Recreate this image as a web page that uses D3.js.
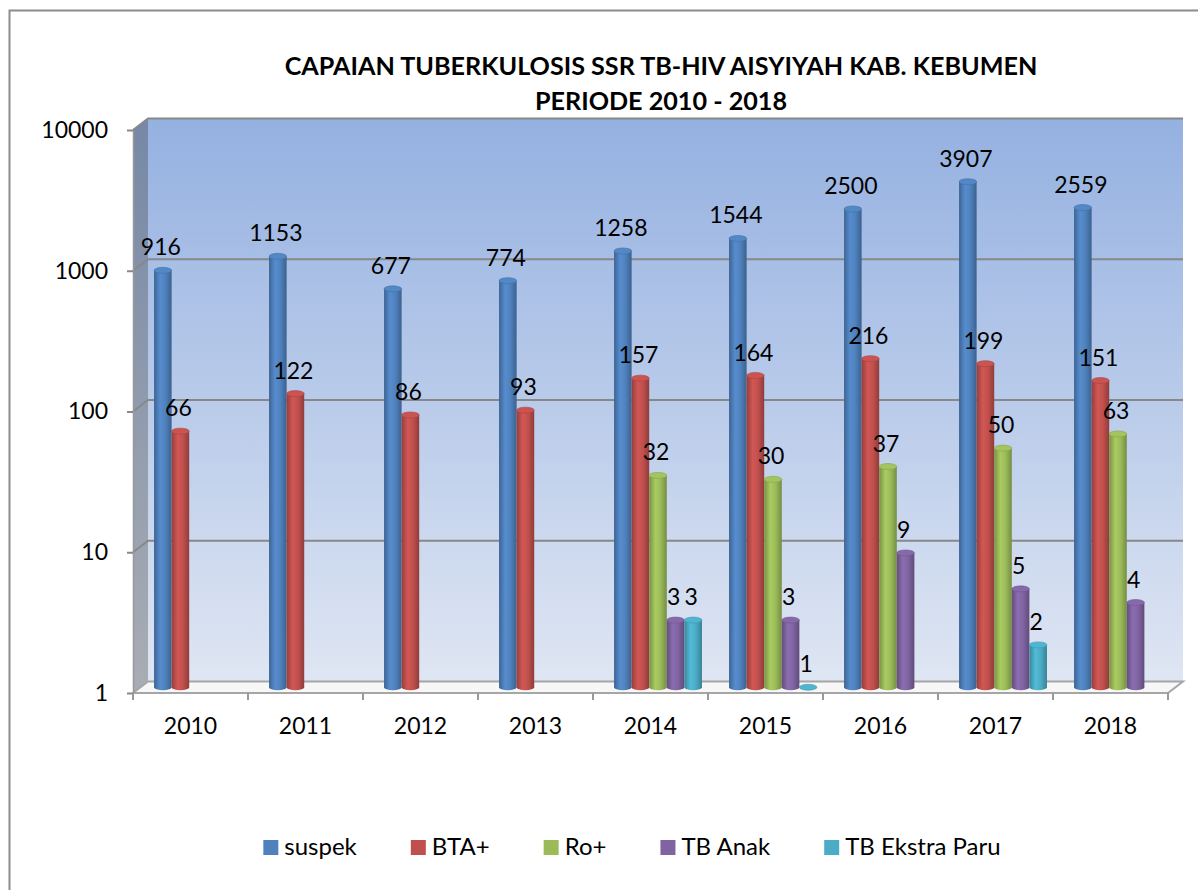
<!DOCTYPE html>
<html>
<head>
<meta charset="utf-8">
<script src="https://cdn.jsdelivr.net/npm/d3@7"></script>
<style>
  body { margin: 0; background: #fff; }
  svg { display: block; font-family: Lato, "Open Sans", sans-serif; }
</style>
</head>
<body>
<div id="chart"></div>
<script>
const years = ["2010", "2011", "2012", "2013", "2014", "2015", "2016", "2017", "2018"];
const seriesNames = ["suspek", "BTA+", "Ro+", "TB Anak", "TB Ekstra Paru"];
const suspek = [916, 1153, 677, 774, 1258, 1544, 2500, 3907, 2559];
const btaPlus = [66, 122, 86, 93, 157, 164, 216, 199, 151];
const roPlus = [null, null, null, null, 32, 30, 37, 50, 63];
const tbAnak = [null, null, null, null, 3, 3, 9, 5, 4];
const tbEkstraParu = [null, null, null, null, 3, 1, null, 2, null];
const yTicks = [1, 10, 100, 1000, 10000];
const titleLines = [
  "CAPAIAN TUBERKULOSIS SSR TB-HIV AISYIYAH KAB. KEBUMEN",
  "PERIODE 2010 - 2018",
];

const seriesValues = [suspek, btaPlus, roPlus, tbAnak, tbEkstraParu];
const seriesColors = ["#4F81BD", "#C0504D", "#9BBB59", "#8064A2", "#4BACC6"];

const width = 1198;
const height = 890;
// 3d depth of the plot box
const depthX = 15;
const depthY = -11.5;
const fontSize = 23;

const svg = d3
  .select("#chart")
  .append("svg")
  .attr("width", width)
  .attr("height", height);

const defs = svg.append("defs");

// Outer border of the chart area
svg
  .append("rect")
  .attr("x", 9.5)
  .attr("y", 10.5)
  .attr("width", 1220)
  .attr("height", 920)
  .attr("fill", "none")
  .attr("stroke", "#8c8c8c")
  .attr("stroke-width", 2);

// Scales
const x0 = d3.scaleBand().domain(years).range([133, 1168]);
const x1 = d3
  .scaleBand()
  .domain(seriesNames)
  .range([0, x0.bandwidth()])
  .paddingInner(0)
  .paddingOuter(0.77);
const y = d3.scaleLog().domain([1, 10000]).range([693, 130]);

const [yBottom, yTop] = y.range();
const [xLeft, xRight] = x0.range();

// Title
const title = svg
  .append("g")
  .attr("font-weight", "bold")
  .attr("text-anchor", "middle")
  .attr("fill", "#000");
titleLines.forEach((line, i) => {
  title
    .append("text")
    .attr("x", 661)
    .attr("y", 75 + i * 35)
    .attr("font-size", 23)
    .text(line);
});
// fit first line to the reference width
const firstLine = title.select("text").node();
const fitSize = (23 * 753) / firstLine.getComputedTextLength();
title.selectAll("text").attr("font-size", fitSize);

// Gradients
const wallGrad = defs
  .append("linearGradient")
  .attr("id", "wall-grad")
  .attr("x1", 0).attr("y1", 0).attr("x2", 0).attr("y2", 1);
wallGrad.append("stop").attr("offset", "0%").attr("stop-color", "#95b1e1");
wallGrad.append("stop").attr("offset", "50%").attr("stop-color", "#b9cbea");
wallGrad.append("stop").attr("offset", "100%").attr("stop-color", "#dfe6f3");

const sideGrad = defs
  .append("linearGradient")
  .attr("id", "side-grad")
  .attr("x1", 0).attr("y1", 0).attr("x2", 0).attr("y2", 1);
sideGrad.append("stop").attr("offset", "0%").attr("stop-color", "#7688a6");
sideGrad.append("stop").attr("offset", "100%").attr("stop-color", "#a9adb4");

seriesColors.forEach((c, i) => {
  const g = defs
    .append("linearGradient")
    .attr("id", "cyl-" + i)
    .attr("x1", 0).attr("y1", 0).attr("x2", 1).attr("y2", 0);
  g.append("stop").attr("offset", "0%").attr("stop-color", d3.color(c).darker(0.7));
  g.append("stop").attr("offset", "35%").attr("stop-color", d3.color(c).brighter(0.25));
  g.append("stop").attr("offset", "65%").attr("stop-color", c);
  g.append("stop").attr("offset", "100%").attr("stop-color", d3.color(c).darker(0.8));
});

// Back wall
svg
  .append("rect")
  .attr("x", xLeft + depthX)
  .attr("y", yTop + depthY)
  .attr("width", xRight - xLeft)
  .attr("height", yBottom - yTop)
  .attr("fill", "url(#wall-grad)");

// Left side wall
svg
  .append("polygon")
  .attr("points", [
    [xLeft, yTop],
    [xLeft + depthX, yTop + depthY],
    [xLeft + depthX, yBottom + depthY],
    [xLeft, yBottom],
  ].join(" "))
  .attr("fill", "url(#side-grad)");

// Floor
svg
  .append("polygon")
  .attr("points", [
    [xLeft, yBottom],
    [xLeft + depthX, yBottom + depthY],
    [xRight + depthX, yBottom + depthY],
    [xRight, yBottom],
  ].join(" "))
  .attr("fill", "#f7f7f7")
  .attr("stroke", "#a6a6a6")
  .attr("stroke-width", 2);

// Gridlines on walls
const grid = svg.append("g").attr("stroke", "#888").attr("stroke-width", 2).attr("fill", "none");
yTicks.slice(1).forEach((t) => {
  grid
    .append("polyline")
    .attr("points", [
      [xLeft, y(t)],
      [xLeft + depthX, y(t) + depthY],
      [xRight + depthX, y(t) + depthY],
    ].join(" "));
});

// Y axis
const yAxis = svg
  .append("g")
  .attr("transform", `translate(${xLeft},0)`)
  .call(
    d3.axisLeft(y)
      .tickValues(yTicks)
      .tickFormat(d3.format("d"))
      .tickSize(6)
      .tickSizeOuter(0)
      .tickPadding(19)
  );
yAxis.select(".domain").attr("stroke", "#999").attr("stroke-width", 1.5);
yAxis.selectAll(".tick line").attr("stroke", "#888").attr("stroke-width", 2);
yAxis
  .selectAll(".tick text")
  .attr("font-family", "Lato, sans-serif")
  .attr("font-size", fontSize)
  .attr("fill", "#000");

// X axis
const xAxis = svg
  .append("g")
  .attr("transform", `translate(0,${yBottom})`)
  .call(d3.axisBottom(x0).tickSize(0).tickPadding(25));
xAxis.select(".domain").remove();
xAxis
  .selectAll(".tick text")
  .attr("font-family", "Lato, sans-serif")
  .attr("font-size", fontSize)
  .attr("fill", "#000");

// boundary tick marks between categories
svg
  .append("g")
  .selectAll("line")
  .data(years.map((d) => x0(d)).concat([xRight]))
  .join("line")
  .attr("x1", (d) => d)
  .attr("x2", (d) => d)
  .attr("y1", yBottom)
  .attr("y2", yBottom + 7)
  .attr("stroke", "#999")
  .attr("stroke-width", 2);

// Bars (cylinders) sit at half depth
const barData = [];
years.forEach((year, yi) => {
  seriesNames.forEach((name, si) => {
    const v = seriesValues[si][yi];
    if (v == null) return;
    barData.push({ year, name, si, value: v });
  });
});

const bw = x1.bandwidth();
const rx = bw / 2;
const ry = 3;
const base = y(1) + depthY / 2;

const bars = svg
  .append("g")
  .selectAll("g")
  .data(barData)
  .join("g")
  .attr("transform", (d) => `translate(${x0(d.year) + x1(d.name) + depthX / 2},0)`);

bars
  .filter((d) => d.value > 1)
  .append("path")
  .attr("d", (d) => {
    const top = y(d.value) + depthY / 2;
    return `M0,${top} L0,${base} A${rx},${ry} 0 0 0 ${bw},${base} L${bw},${top} Z`;
  })
  .attr("fill", (d) => `url(#cyl-${d.si})`);

bars
  .append("ellipse")
  .attr("cx", rx)
  .attr("cy", (d) => y(d.value) + depthY / 2)
  .attr("rx", rx)
  .attr("ry", ry)
  .attr("fill", (d) => d3.color(seriesColors[d.si]).brighter(0.15))
  .attr("stroke", (d) => d3.color(seriesColors[d.si]).darker(0.4))
  .attr("stroke-width", 0.6);

// Value labels
bars
  .append("text")
  .attr("x", rx - 2)
  .attr("y", (d) => y(d.value) + depthY / 2 - 15)
  .attr("text-anchor", "middle")
  .attr("font-size", fontSize)
  .attr("fill", "#000")
  .text((d) => d.value);

// Legend
const legend = svg.append("g").attr("font-size", 24);
const items = legend
  .selectAll("g")
  .data(seriesNames)
  .join("g");
items
  .append("rect")
  .attr("width", 15)
  .attr("height", 15)
  .attr("y", 840)
  .attr("fill", (d, i) => seriesColors[i]);
items
  .append("text")
  .attr("x", 21)
  .attr("y", 855)
  .attr("fill", "#000")
  .text((d) => d);

let offset = 0;
const widths = [];
items.each(function () {
  const w = d3.select(this).select("text").node().getComputedTextLength() + 21;
  widths.push(w);
});
const gap = 54;
const total = d3.sum(widths) + gap * (widths.length - 1);
let startX = 632 - total / 2;
items.attr("transform", (d, i) => {
  const tx = startX + offset;
  offset += widths[i] + gap;
  return `translate(${tx},0)`;
});
</script>
</body>
</html>
